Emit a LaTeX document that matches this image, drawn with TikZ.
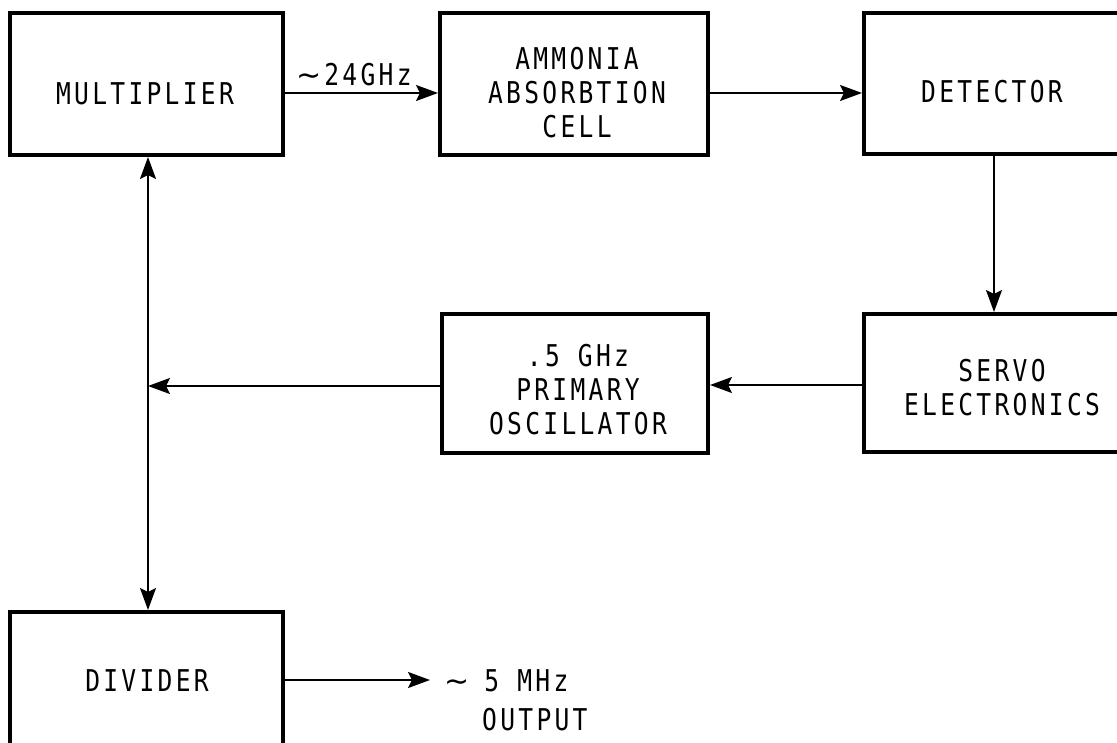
\documentclass[tikz,border=0pt]{standalone}
\usepackage{fontspec}
\setmonofont[FakeStretch=0.82,LetterSpace=11]{DejaVu Sans Mono}
\newfontfamily\tildefont{DejaVu Sans}
\newcommand{\mytilde}{{\tildefont ∼}}
\usetikzlibrary{arrows.meta}
\begin{document}
\begin{tikzpicture}[x=1pt,y=-1pt,
  blk/.style={draw=black, line width=4pt, inner sep=0pt},
  txt/.style={font=\ttfamily\fontsize{30}{34}\selectfont, inner sep=0pt, align=center},
  lbl/.style={font=\ttfamily\fontsize{30}{34}\selectfont, inner sep=0pt, anchor=west},
  conn/.style={draw=black, line width=2pt},
  arr/.style={conn, -{Stealth[length=22pt,width=16pt,inset=4pt]}},
  arrb/.style={conn, {Stealth[length=22pt,width=16pt,inset=4pt]}-{Stealth[length=22pt,width=16pt,inset=4pt]}}]
\useasboundingbox (0,0) rectangle (1117,743);
\clip (0,0) rectangle (1117,743);
\fill[white] (0,0) rectangle (1117,743);
% boxes
\node[blk, minimum width=273pt, minimum height=142pt] (mult) at (146.5,84) {};
\node[blk, minimum width=268pt, minimum height=142pt] (amm) at (574,84) {};
\node[blk, minimum width=286pt, minimum height=141pt] (det) at (1007,83.5) {};
\node[blk, minimum width=266pt, minimum height=139pt] (osc) at (575,383.5) {};
\node[blk, minimum width=286pt, minimum height=138pt] (servo) at (1007,383) {};
\node[blk, minimum width=273pt, minimum height=148pt] (div) at (146.5,686) {};
% texts
\node[txt] (multt) at (145,94) {MULTIPLIER};
\node[txt] (ammt) at (577,93) {AMMONIA\\ABSORBTION\\CELL};
\node[txt] (dett) at (992,92) {DETECTOR};
\node[txt] (osct) at (578,390) {.5 GHz\\PRIMARY\\OSCILLATOR};
\node[txt] (servot) at (1002,387.5) {SERVO\\ELECTRONICS};
\node[txt] (divt) at (147,681) {DIVIDER};
\node[lbl] (ghz) at (296,75) {\mytilde\hspace{3pt}24GHz};
\node[lbl] (mhz) at (444,681) {\mytilde\hspace{-3pt} 5 MHz};
\node[lbl] (outp) at (482,720) {OUTPUT};
% connectors
\coordinate (j) at (148,386);
\coordinate (o) at (430,680);
\draw[arr] ([yshift=-9pt]mult.east) -- ([yshift=-9pt]amm.west);
\draw[arr] ([yshift=-9pt]amm.east) -- ([yshift=-9.5pt]det.west);
\draw[arr] ([xshift=-13pt]det.south) -- ([xshift=-13pt]servo.north);
\draw[arr] ([yshift=-2pt]servo.west) -- ([yshift=-1.5pt]osc.east);
\draw[arr] (osc.west |- j) -- (j);
\draw[arrb] (mult.south -| j) -- (div.north -| j);
\draw[arr] (div.east |- o) -- (o);
\end{tikzpicture}
\end{document}
